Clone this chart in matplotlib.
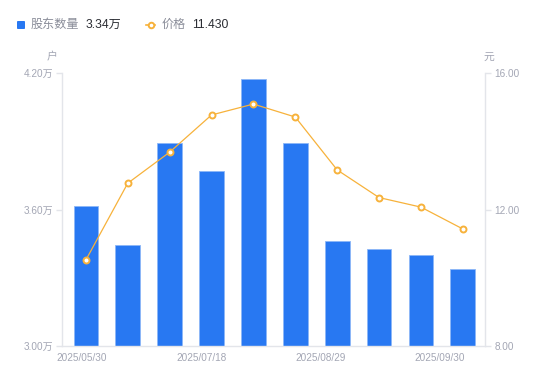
import matplotlib
matplotlib.use("Agg")
import matplotlib.pyplot as plt
from matplotlib.lines import Line2D
from matplotlib.patches import FancyBboxPatch
import numpy as np

plt.rcParams['font.family'] = ['Liberation Sans', 'Noto Sans CJK SC', 'DejaVu Sans']

dates = ["2025/05/30", "2025/06/13", "2025/06/30", "2025/07/18", "2025/07/31",
         "2025/08/15", "2025/08/29", "2025/09/10", "2025/09/19", "2025/09/30"]
holders = [3.615, 3.445, 3.894, 3.769, 4.172, 3.894, 3.462, 3.425, 3.399, 3.337]  # 万户
price = [10.52, 12.77, 13.68, 14.77, 15.09, 14.71, 13.16, 12.35, 12.07, 11.43]
left_ticks = [3.00, 3.60, 4.20]
right_ticks = [8.00, 12.00, 16.00]
label_idx = [0, 3, 6, 9]

W, H = 550, 381
fig = plt.figure(figsize=(W/100, H/100), dpi=100)
ax = fig.add_axes([62/W, 1-346/H, (485-62)/W, (346-73)/H])
ax2 = ax.twinx()

bar_color = '#2878F2'
line_color = '#F7B23B'
axis_color = '#E3E5EA'
tick_text = '#A3A6B4'

x = np.arange(len(dates))
ax.bar(x, holders, width=0.59, color=bar_color, edgecolor='#8DB7F7', linewidth=0.6, zorder=2)
ax.set_xlim(-0.57, len(dates)-0.47)
ax.set_ylim(left_ticks[0], left_ticks[-1])
ax.set_yticks(left_ticks)
ax.set_yticklabels([f"{v:.2f}万" for v in left_ticks])

ax2.plot(x, price, color=line_color, linewidth=0.9, marker='o', markersize=4.3,
         markerfacecolor='white', markeredgecolor=line_color, markeredgewidth=1.4, zorder=3)
ax2.set_ylim(right_ticks[0], right_ticks[-1])
ax2.set_yticks(right_ticks)
ax2.set_yticklabels([f"{v:.2f}" for v in right_ticks])

tick_pos = np.linspace(label_idx[0]-0.09, label_idx[-1]-0.55, len(label_idx))
ax.set_xticks(tick_pos)
ax.set_xticklabels([dates[i] for i in label_idx])

for a in (ax, ax2):
    for s in a.spines.values():
        s.set_visible(False)
ax.spines['left'].set_visible(True)
ax.spines['bottom'].set_visible(True)
ax2.spines['right'].set_visible(True)
for s in (ax.spines['left'], ax.spines['bottom'], ax2.spines['right']):
    s.set_color(axis_color)
    s.set_linewidth(1)

ax.tick_params(axis='y', colors=axis_color, labelcolor=tick_text, labelsize=7.2, length=4, width=1, pad=2)
ax2.tick_params(axis='y', colors=axis_color, labelcolor=tick_text, labelsize=7.2, length=4, width=1, pad=3)
ax.tick_params(axis='x', length=0, labelcolor=tick_text, labelsize=7.2, pad=5)

fig.text(58/W, 1-57/H, "户", ha='right', va='center', fontsize=7.8, color=tick_text)
fig.text(484/W, 1-57/H, "元", ha='left', va='center', fontsize=7.8, color=tick_text)

# legend
fig.patches.append(FancyBboxPatch((17/W, 1-29/H), 8/W, 8/H, boxstyle="round,pad=0,rounding_size=0.002",
                                  transform=fig.transFigure, facecolor=bar_color, edgecolor='none'))
fig.text(31/W, 1-24.5/H, "股东数量", ha='left', va='center', fontsize=8.7, color='#8A8D99')
fig.text(86/W, 1-24.5/H, f"{holders[-1]:.2f}万", ha='left', va='center', fontsize=8.7, color='#2B2D33')
fig.add_artist(Line2D([146/W, 155/W], [1-24.5/H, 1-24.5/H], transform=fig.transFigure,
                      color=line_color, linewidth=1.2))
fig.add_artist(Line2D([150.5/W], [1-24.5/H], transform=fig.transFigure, linestyle='none',
                      color=line_color, marker='o', markersize=4,
                      markerfacecolor='white', markeredgecolor=line_color, markeredgewidth=1.4))
fig.text(162/W, 1-24.5/H, "价格", ha='left', va='center', fontsize=8.7, color='#8A8D99')
fig.text(192/W, 1-24.5/H, f"{price[-1]:.3f}", ha='left', va='center', fontsize=8.7, color='#2B2D33')

fig.savefig("out.png", dpi=100)
